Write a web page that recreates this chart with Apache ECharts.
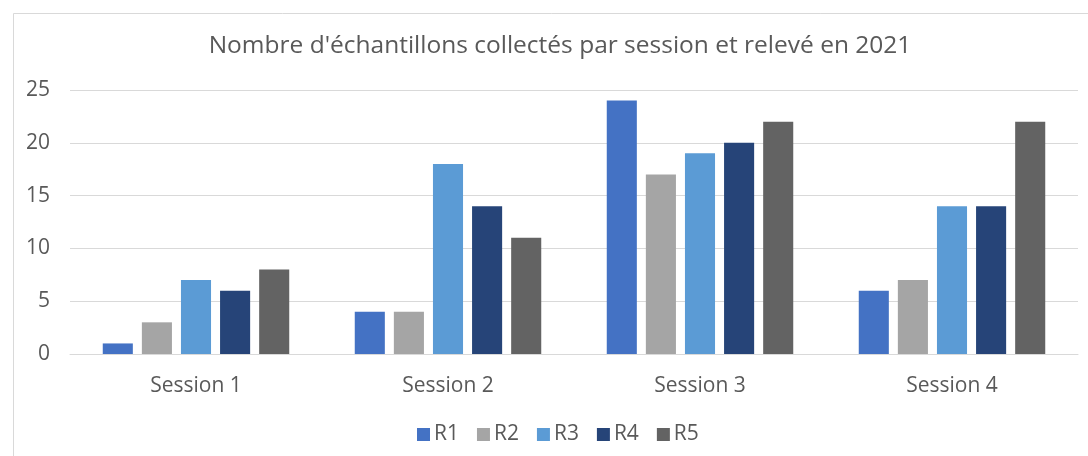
<!DOCTYPE html>
<html><head><meta charset="utf-8">
<script src="https://cdn.jsdelivr.net/npm/echarts@6/dist/echarts.min.js"></script>
<style>html,body{margin:0;padding:0;background:#fff}#c{width:1088px;height:456px}</style>
</head><body><div id="c"></div>
<script>
const categories = ['Session 1', 'Session 2', 'Session 3', 'Session 4'];
const seriesNames = ['R1', 'R2', 'R3', 'R4', 'R5'];
const R1 = [1, 4, 24, 6];
const R2 = [3, 4, 17, 7];
const R3 = [7, 18, 19, 14];
const R4 = [6, 14, 20, 14];
const R5 = [8, 11, 22, 22];
const colors = ['#4472C4', '#A5A5A5', '#5B9BD5', '#264478', '#636363'];
const yTicks = [0, 5, 10, 15, 20, 25];

const values = [R1, R2, R3, R4, R5];
const font = '"Open Sans", "Noto Sans", sans-serif';
const chart = echarts.init(document.getElementById('c'), null, {renderer: 'canvas'});
chart.setOption({
  animation: false,
  backgroundColor: '#fff',
  color: colors,
  graphic: [{
    type: 'rect', shape: {x: 13.5, y: 13.5, width: 1090, height: 460},
    style: {fill: 'none', stroke: '#d9d9d9', lineWidth: 1}, silent: true
  }],
  title: {
    text: "Nombre d'échantillons collectés par session et relevé en 2021",
    left: 555, top: 29, textAlign: 'center',
    textStyle: {fontFamily: font, fontSize: 24.5, fontWeight: 'normal', color: '#595959'}
  },
  legend: {
    data: seriesNames, top: 424, left: 417, padding: 0,
    itemWidth: 13, itemHeight: 13, itemGap: 18, icon: 'rect',
    textStyle: {fontFamily: font, fontSize: 21, color: '#595959', padding: [0, 0, 0, -1]}
  },
  grid: {left: 70, right: 10, top: 90, bottom: 102, containLabel: false},
  xAxis: {
    type: 'category', data: categories,
    axisLine: {lineStyle: {color: '#d9d9d9'}}, axisTick: {show: false},
    axisLabel: {fontFamily: font, fontSize: 21, color: '#595959', margin: 22}
  },
  yAxis: {
    type: 'value', min: yTicks[0], max: yTicks[yTicks.length - 1], interval: 5,
    axisLine: {show: false}, axisTick: {show: false},
    axisLabel: {fontFamily: font, fontSize: 21, color: '#595959', margin: 20},
    splitLine: {lineStyle: {color: '#d9d9d9'}}
  },
  series: seriesNames.map((n, i) => ({
    name: n, type: 'bar', data: values[i],
    barGap: '30%', barCategoryGap: '26%',
    itemStyle: {color: colors[i]}
  }))
});
</script></body></html>
